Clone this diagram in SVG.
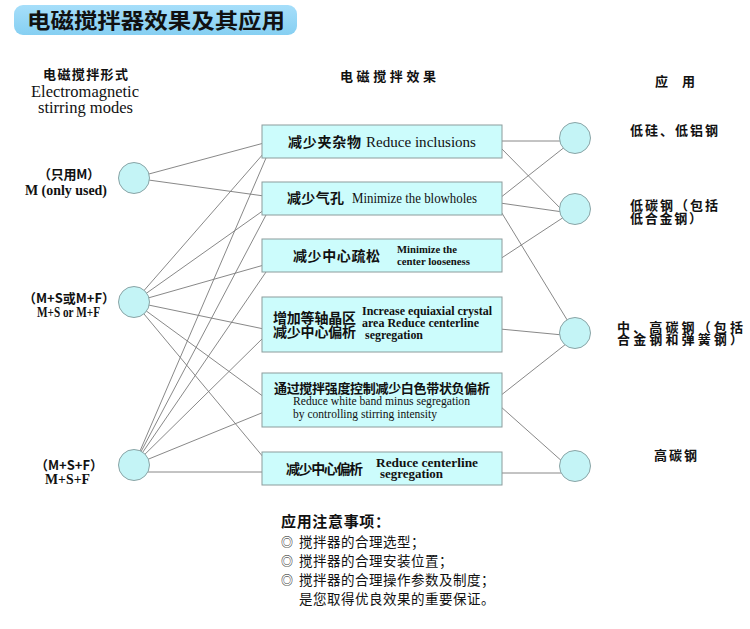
<svg xmlns="http://www.w3.org/2000/svg" width="750" height="629" viewBox="0 0 750 629">
<defs>
<linearGradient id="tg" x1="0" y1="0" x2="0" y2="1">
<stop offset="0" stop-color="#a6defa"/>
<stop offset="1" stop-color="#86cff2"/>
</linearGradient>
</defs>
<style>
.cj{font-family:"Noto Sans CJK SC","Noto Sans",sans-serif;font-weight:bold;fill:#111}
.cn{font-family:"Noto Sans CJK SC","Noto Sans",sans-serif;font-weight:normal;fill:#111}
.en{font-family:"Liberation Serif","Times New Roman",serif;fill:#111}
.eb{font-family:"Liberation Serif","Times New Roman",serif;font-weight:bold;fill:#111}
.box{fill:#ccfcfc;stroke:#8c9c9c;stroke-width:1}
.nd{fill:#c4f4f6;stroke:#8aa4a6;stroke-width:1}
.cn line{stroke:#777}
#connectors line{stroke:#7a7a7a;stroke-width:0.9}
</style>
<rect width="750" height="629" fill="#ffffff"/>
<g id="title">
<rect x="14" y="5" width="283" height="30" rx="9" fill="url(#tg)"/>
<text class="cj" x="27" y="28" font-size="21" textLength="258" lengthAdjust="spacingAndGlyphs">电磁搅拌器效果及其应用</text>
</g>
<g id="headers">
<text class="cj" x="43" y="79" font-size="13" textLength="85">电磁搅拌形式</text>
<text class="en" x="31" y="97" font-size="16" textLength="108" lengthAdjust="spacingAndGlyphs">Electromagnetic</text>
<text class="en" x="38" y="113" font-size="16" textLength="95" lengthAdjust="spacingAndGlyphs">stirring modes</text>
<text class="cj" x="340" y="81" font-size="13" textLength="96">电磁搅拌效果</text>
<text class="cj" x="655" y="86" font-size="13">应</text>
<text class="cj" x="682" y="86" font-size="13">用</text>
</g>
<g id="connectors">
<line x1="134" y1="178" x2="264" y2="143"/>
<line x1="134" y1="178" x2="264" y2="196"/>
<line x1="134" y1="302" x2="264" y2="153"/>
<line x1="134" y1="302" x2="264" y2="210"/>
<line x1="134" y1="302" x2="264" y2="265"/>
<line x1="134" y1="302" x2="264" y2="329"/>
<line x1="134" y1="302" x2="264" y2="397"/>
<line x1="134" y1="302" x2="264" y2="458"/>
<line x1="134" y1="465" x2="266" y2="158"/>
<line x1="134" y1="465" x2="266" y2="215"/>
<line x1="134" y1="465" x2="266" y2="272"/>
<line x1="134" y1="465" x2="264" y2="337"/>
<line x1="134" y1="465" x2="264" y2="412"/>
<line x1="145" y1="472" x2="264" y2="472"/>
<line x1="500" y1="141" x2="565" y2="141"/>
<line x1="500" y1="147" x2="563" y2="211"/>
<line x1="500" y1="198" x2="566" y2="146"/>
<line x1="500" y1="203" x2="563" y2="212"/>
<line x1="500" y1="210" x2="569" y2="323"/>
<line x1="500" y1="259" x2="564" y2="217"/>
<line x1="500" y1="329" x2="563" y2="335"/>
<line x1="500" y1="396" x2="566" y2="344"/>
<line x1="500" y1="406" x2="564" y2="463"/>
<line x1="500" y1="473" x2="563" y2="473"/>
</g>
<g id="mode-m">
<circle class="nd" cx="134" cy="178" r="15.5"/>
<text class="cj" x="38" y="179" font-size="13" textLength="62">（只用M）</text>
<text class="eb" x="25" y="195" font-size="14" textLength="82" lengthAdjust="spacingAndGlyphs">M (only used)</text>
</g>
<g id="mode-ms">
<circle class="nd" cx="134" cy="302" r="15.5"/>
<text class="cj" x="23" y="303" font-size="13" textLength="92">（M+S或M+F）</text>
<text class="eb" x="37" y="317" font-size="14" textLength="63" lengthAdjust="spacingAndGlyphs">M+S or M+F</text>
</g>
<g id="mode-msf">
<circle class="nd" cx="134" cy="465" r="15.5"/>
<text class="cj" x="35" y="470" font-size="13" textLength="68">（M+S+F）</text>
<text class="eb" x="45" y="484" font-size="14" textLength="45" lengthAdjust="spacingAndGlyphs">M+S+F</text>
</g>
<g id="effect-1">
<rect class="box" x="262" y="125" width="240" height="33"/>
<text class="cj" x="288" y="147" font-size="14" textLength="73">减少夹杂物</text>
<text class="en" x="366" y="147" font-size="15" textLength="110" lengthAdjust="spacingAndGlyphs">Reduce inclusions</text>
</g>
<g id="effect-2">
<rect class="box" x="262" y="182" width="240" height="33"/>
<text class="cj" x="287" y="203" font-size="14" textLength="57">减少气孔</text>
<text class="en" x="352" y="203" font-size="14" textLength="125" lengthAdjust="spacingAndGlyphs">Minimize the blowholes</text>
</g>
<g id="effect-3">
<rect class="box" x="262" y="239" width="240" height="33"/>
<text class="cj" x="293" y="261" font-size="14" textLength="87">减少中心疏松</text>
<text class="eb" x="397" y="253" font-size="11" textLength="60" lengthAdjust="spacingAndGlyphs">Minimize the</text>
<text class="eb" x="397" y="265" font-size="11" textLength="73" lengthAdjust="spacingAndGlyphs">center looseness</text>
</g>
<g id="effect-4">
<rect class="box" x="262" y="297" width="240" height="55"/>
<text class="cj" x="273" y="323" font-size="14" textLength="83">增加等轴晶区</text>
<text class="cj" x="273" y="337" font-size="14" textLength="83">减少中心偏析</text>
<text class="eb" x="362" y="315" font-size="13" textLength="130" lengthAdjust="spacingAndGlyphs">Increase equiaxial crystal</text>
<text class="eb" x="362" y="327" font-size="13" textLength="117" lengthAdjust="spacingAndGlyphs">area Reduce centerline</text>
<text class="eb" x="365" y="339" font-size="13" textLength="58" lengthAdjust="spacingAndGlyphs">segregation</text>
</g>
<g id="effect-5">
<rect class="box" x="262" y="373" width="240" height="54"/>
<text class="cj" x="274" y="393" font-size="13" textLength="216">通过搅拌强度控制减少白色带状负偏析</text>
<text class="en" x="293" y="405" font-size="13" textLength="177" lengthAdjust="spacingAndGlyphs">Reduce white band minus segregation</text>
<text class="en" x="293" y="418" font-size="13" textLength="144" lengthAdjust="spacingAndGlyphs">by controlling stirring intensity</text>
</g>
<g id="effect-6">
<rect class="box" x="262" y="452" width="240" height="33"/>
<text class="cj" x="286" y="474" font-size="14" textLength="77">减少中心偏析</text>
<text class="eb" x="376" y="467" font-size="13" textLength="102" lengthAdjust="spacingAndGlyphs">Reduce centerline</text>
<text class="eb" x="380" y="478" font-size="13" textLength="63" lengthAdjust="spacingAndGlyphs">segregation</text>
</g>
<g id="app-1">
<circle class="nd" cx="575" cy="138" r="15.5"/>
<text class="cj" x="630" y="135" font-size="13" textLength="88">低硅、低铝钢</text>
</g>
<g id="app-2">
<circle class="nd" cx="575" cy="209" r="15.5"/>
<text class="cj" x="630" y="210" font-size="13" textLength="88">低碳钢（包括</text>
<text class="cj" x="630" y="223" font-size="13" textLength="72">低合金钢）</text>
</g>
<g id="app-3">
<circle class="nd" cx="575" cy="333" r="15.5"/>
<text class="cj" x="617" y="332" font-size="13" textLength="126">中、高碳钢（包括</text>
<text class="cj" x="617" y="344" font-size="13" textLength="126">合金钢和弹簧钢）</text>
</g>
<g id="app-4">
<circle class="nd" cx="575" cy="466" r="15.5"/>
<text class="cj" x="654" y="460" font-size="13" textLength="43">高碳钢</text>
</g>
<g id="notes">
<text class="cj" x="281" y="527" font-size="15" textLength="109">应用注意事项：</text>
<text class="cn" x="281" y="547" font-size="12" fill="#555">◎</text>
<text class="cn" x="299" y="547" font-size="13.5" letter-spacing="0.5">搅拌器的合理选型；</text>
<text class="cn" x="281" y="566" font-size="12" fill="#555">◎</text>
<text class="cn" x="299" y="566" font-size="13.5" letter-spacing="0.5">搅拌器的合理安装位置；</text>
<text class="cn" x="281" y="585" font-size="12" fill="#555">◎</text>
<text class="cn" x="299" y="585" font-size="13.5" letter-spacing="0.5">搅拌器的合理操作参数及制度；</text>
<text class="cn" x="299" y="604" font-size="13.5" letter-spacing="0.5">是您取得优良效果的重要保证。</text>
</g>
</svg>
